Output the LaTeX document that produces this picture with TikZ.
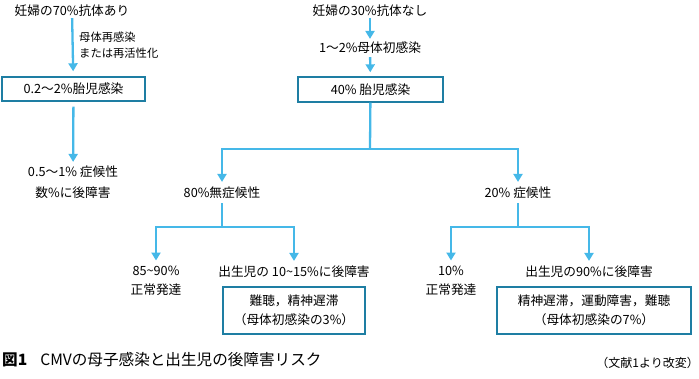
\documentclass[tikz,border=0pt]{standalone}
\usepackage{fontspec}
\setmainfont{Noto Sans CJK JP}
\usetikzlibrary{arrows.meta}
\definecolor{arrowblue}{HTML}{45B8E8}
\definecolor{boxblue}{HTML}{1E7EA3}
\begin{document}
\begin{tikzpicture}[x=1pt,y=-1pt,
  lbl/.style={font=\fontsize{12.7}{19}\selectfont, inner sep=0pt, align=center},
  sml/.style={font=\fontsize{11.3}{16}\selectfont, inner sep=0pt, align=left},
  box/.style={draw=boxblue, line width=1.4pt, inner sep=0pt, align=center,
    font=\fontsize{12.7}{19}\selectfont},
  arr/.style={draw=arrowblue, line width=2.3pt, -{Triangle[width=9pt,length=8pt]}},
  ln/.style={draw=arrowblue, line width=2.3pt}]
\useasboundingbox (0,0) rectangle (699,379);

% left column
\node[lbl] (t70) at (72,11) {妊婦の70\%抗体あり};
\node[sml, anchor=west] (tre) at (79,45) {母体再感染\\または再活性化};
\node[box, minimum width=143pt, minimum height=24pt] (box1) at (73.5,89) {0.2～2\%胎児感染};
\node[lbl, font=\fontsize{12.7}{21}\selectfont] (tleft) at (73,182.5) {0.5～1\% 症候性\\数\%に後障害};

% right column
\node[lbl] (t30) at (370,11) {妊婦の30\%抗体なし};
\node[lbl] (tmat) at (370,48) {1～2\%母体初感染};
\node[box, minimum width=145pt, minimum height=25pt] (box2) at (370.5,89.5) {40\% 胎児感染};

\node[lbl] (t80) at (222,193) {80\%無症候性};
\node[lbl] (t20) at (518,193) {20\% 症候性};

\node[lbl] (t8590) at (156,280.5) {85\textasciitilde90\%\\正常発達};
\node[lbl] (t1015) at (294,272) {出生児の 10\textasciitilde15\%に後障害};
\node[box, minimum width=142pt, minimum height=47pt] (box3) at (294,310.5) {難聴，精神遅滞\\（母体初感染の3\%）};

\node[lbl] (t10) at (451,280.5) {10\%\\正常発達};
\node[lbl] (t90) at (589,272) {出生児の90\%に後障害};
\node[box, minimum width=194pt, minimum height=47pt] (box4) at (594,310.5) {精神遅滞，運動障害，難聴\\（母体初感染の7\%）};

% caption
\node[inner sep=0pt, anchor=west, font=\fontsize{15.6}{17}\selectfont] (cap) at (2,360)
  {\textbf{図1}\hspace{13pt}CMVの母子感染と出生児の後障害リスク};
\node[inner sep=0pt, anchor=east, font=\fontsize{12}{14}\selectfont] (ref) at (699,363)
  {（文献1より改変）};

% connectors
\draw[arr, shorten <=1pt, shorten >=5pt] (t70) -- (box1);
\draw[arr, shorten <=5pt, shorten >=4pt] (box1) -- (tleft);
\draw[arr, shorten <=1pt, shorten >=3pt] (t30) -- (tmat);
\draw[arr, shorten <=3pt, shorten >=4pt] (tmat) -- (box2);

\coordinate (j1) at (370,149);
\coordinate (j2) at (222,227);
\coordinate (j3) at (518,227);
\draw[ln] (box2) -- (j1);
\draw[arr, shorten >=5pt] (j1) -| (t80);
\draw[arr, shorten >=5pt] (j1) -| (t20);
\draw[ln, shorten <=4pt] (t80) -- (j2);
\draw[ln, shorten <=4pt] (t20) -- (j3);
\draw[arr, shorten >=5pt] (j2) -| (t8590);
\draw[arr, shorten >=5pt] (j2) -| (t1015);
\draw[arr, shorten >=5pt] (j3) -| (t10);
\draw[arr, shorten >=5pt] (j3) -| (t90);
\end{tikzpicture}
\end{document}
